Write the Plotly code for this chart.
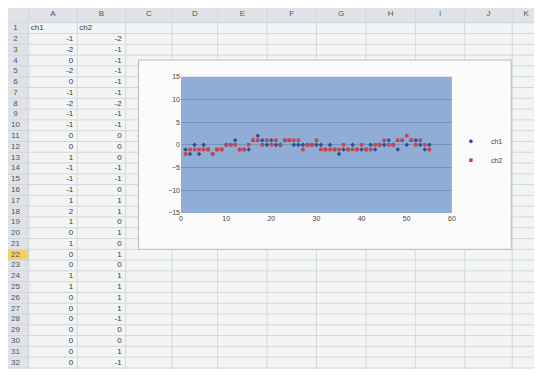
import plotly.graph_objects as go

# ---------------- data ----------------
ch1 = [-1, -2, 0, -2, 0, -1, -2, -1, -1, 0, 0, 1, -1, -1, -1, 1, 2, 1, 0, 1, 0, 0, 1, 1, 0, 0, 0, 0, 0, 0, 0,
       -1, 0, -1, -2, -1, -1, 0, -1, -1, -1, 0, -1, 0, 0, 1, 0, -1, 1, 0, 1, 1, 0, -1, 0]
ch2 = [-2, -1, -1, -1, -1, -1, -2, -1, -1, 0, 0, 0, -1, -1, 0, 1, 1, 0, 1, 0, 1, 0, 1, 1, 1, 1, -1, 0, 0, 1, -1,
       -1, -1, -1, -1, 0, -1, -1, -1, 0, -1, -1, 0, 0, 1, 0, 0, 1, 1, 2, 1, 0, 1, 0, -1]
x_idx = list(range(1, len(ch1) + 1))
series_names = ["ch1", "ch2"]
col_letters = ["A", "B", "C", "D", "E", "F", "G", "H", "I", "J", "K"]
visible_rows = 32
active_row = 22
y_ticks = [15, 10, 5, 0, -5, -10, -15]
x_ticks = [0, 10, 20, 30, 40, 50, 60]

# ---------------- geometry (reference pixels) ----------------
OFF = 8                      # page body margin of the html page
REF_W, REF_H = 542, 377
W, H = REF_W - 2 * OFF, REF_H - 2 * OFF
HDR = 19
ROW = 11
ROWNUM_W = 27
col_edges = [27, 76, 125, 172, 218, 268, 318, 368, 418, 468, 516, 544]


def px(xr):
    return (xr - OFF) / W


def py(yr):
    return 1 - (yr - OFF) / H


FONT = "Liberation Sans"
CELL_BG = "#f3f4f4"
HDR_BG = "#dfe3e8"
GRID = "#d3d7dc"
TXT = "#3a3a3a"

fig = go.Figure()

shapes = []
# column header band
shapes.append(dict(type="rect", xref="paper", yref="paper", layer="below",
                   x0=px(0), x1=px(REF_W + 20), y0=py(HDR), y1=py(-5),
                   fillcolor=HDR_BG, line=dict(width=0)))
# row-number column band
shapes.append(dict(type="rect", xref="paper", yref="paper", layer="below",
                   x0=px(-5), x1=px(ROWNUM_W), y0=py(REF_H + 20), y1=py(-5),
                   fillcolor=HDR_BG, line=dict(width=0)))
# active row header
shapes.append(dict(type="rect", xref="paper", yref="paper", layer="below",
                   x0=px(-5), x1=px(ROWNUM_W), y0=py(HDR + ROW * active_row),
                   y1=py(HDR + ROW * (active_row - 1)),
                   fillcolor="#f3cf6a", line=dict(width=0)))
# horizontal grid lines
for k in range(visible_rows + 2):
    yy = HDR + ROW * k
    shapes.append(dict(type="line", xref="paper", yref="paper", layer="below",
                       x0=px(-5), x1=px(REF_W + 20), y0=py(yy), y1=py(yy),
                       line=dict(color=GRID, width=1)))
# vertical grid lines
for xe in col_edges:
    shapes.append(dict(type="line", xref="paper", yref="paper", layer="below",
                       x0=px(xe), x1=px(xe), y0=py(REF_H + 20), y1=py(-5),
                       line=dict(color=GRID, width=1)))
# chart area box
shapes.append(dict(type="rect", xref="paper", yref="paper", layer="below",
                   x0=px(138), x1=px(515), y0=py(250), y1=py(57),
                   fillcolor="#fbfbfb", line=dict(color="#b8bcc0", width=1)))
# plot area fill
shapes.append(dict(type="rect", xref="x domain", yref="y domain", layer="below",
                   x0=0, x1=1, y0=0, y1=1,
                   fillcolor="#8fadd5", line=dict(width=0)))

# ---------------- chart ----------------
colors = ["#2f4f8e", "#c8454a"]
symbols = ["diamond", "square"]
for name, ys, c, s in zip(series_names, [ch1, ch2], colors, symbols):
    fig.add_trace(go.Scatter(x=x_idx, y=ys, mode="markers", name=name,
                             marker=dict(color=c, size=3.5, symbol=s)))

# ---------------- spreadsheet texts (on a full-page pixel axis) ----------------
row_ids = list(range(1, visible_rows + 1))
row_centers = [HDR + ROW * (r - 1) + ROW / 2 for r in row_ids]
sheet_font = dict(family=FONT, size=8, color=TXT)

# column letters
col_centers = [(col_edges[i] + col_edges[i + 1]) / 2 for i in range(len(col_letters))]
fig.add_trace(go.Scatter(x=col_centers, y=[HDR / 2 + 1] * len(col_letters), text=col_letters,
                         mode="text", textposition="middle center", cliponaxis=False,
                         textfont=dict(family=FONT, size=8, color="#555"),
                         xaxis="x2", yaxis="y2", showlegend=False, hoverinfo="skip"))
# row numbers
fig.add_trace(go.Scatter(x=[ROWNUM_W / 2] * visible_rows, y=row_centers,
                         text=[str(r) for r in row_ids],
                         mode="text", textposition="middle center", cliponaxis=False,
                         textfont=dict(family=FONT, size=8, color="#555"),
                         xaxis="x2", yaxis="y2", showlegend=False, hoverinfo="skip"))
# series names in row 1
fig.add_trace(go.Scatter(x=[col_edges[0] + 2, col_edges[1] + 2], y=[row_centers[0]] * 2,
                         text=series_names, mode="text", textposition="middle right",
                         cliponaxis=False, textfont=sheet_font,
                         xaxis="x2", yaxis="y2", showlegend=False, hoverinfo="skip"))
# values
n_vals = visible_rows - 1
for ci, vals in enumerate([ch1, ch2]):
    fig.add_trace(go.Scatter(x=[col_edges[ci + 1] - 4] * n_vals, y=row_centers[1:],
                             text=[str(v) for v in vals[:n_vals]],
                             mode="text", textposition="middle left", cliponaxis=False,
                             textfont=sheet_font,
                             xaxis="x2", yaxis="y2", showlegend=False, hoverinfo="skip"))

fig.update_layout(
    width=W, height=H,
    margin=dict(l=0, r=0, t=0, b=0),
    paper_bgcolor=CELL_BG,
    plot_bgcolor="rgba(0,0,0,0)",
    shapes=shapes,
    xaxis=dict(domain=[px(181), px(455)], range=[0, 60], tickvals=x_ticks,
               showgrid=False, zeroline=False, showline=False,
               ticks="", tickfont=dict(family=FONT, size=7, color="#444")),
    yaxis=dict(domain=[py(213), py(74)], range=[-15, 15], tickvals=y_ticks,
               showgrid=True, gridcolor="#7592bf", gridwidth=1,
               zeroline=False, showline=False, ticks="",
               tickfont=dict(family=FONT, size=7, color="#444")),
    xaxis2=dict(domain=[0, 1], range=[OFF, OFF + W], visible=False, anchor="y2"),
    yaxis2=dict(domain=[0, 1], range=[OFF + H, OFF], visible=False, anchor="x2"),
    legend=dict(x=px(454), y=py(125), xanchor="left", yanchor="top",
                bgcolor="rgba(0,0,0,0)", font=dict(family=FONT, size=7, color="#444"),
                itemwidth=30, tracegroupgap=0),
    showlegend=True,
)

fig.write_html("out.html")
